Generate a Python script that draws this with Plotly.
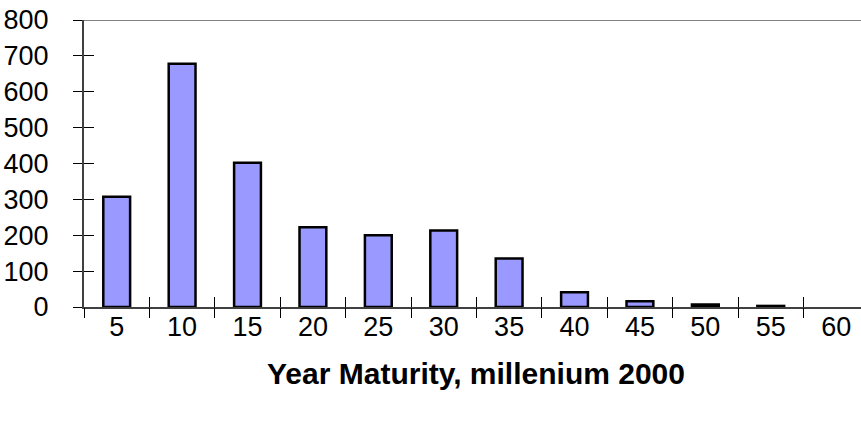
import plotly.graph_objects as go

categories = ["5", "10", "15", "20", "25", "30", "35", "40", "45", "50", "55", "60"]
values = [307, 678, 402, 222, 200, 213, 135, 41, 16, 7, 3, 0]
y_ticks = [0, 100, 200, 300, 400, 500, 600, 700, 800]
x_title = "Year Maturity, millenium 2000"

pos = list(range(len(categories)))
bounds = [i - 0.5 for i in range(len(categories) + 1)]
xr = [-0.5, 11.38]
yr = [0, 800]
FONT = "Liberation Sans, Arial, sans-serif"
line_widths = [2.5 if v > 0 else 0 for v in values]

fig = go.Figure()
fig.add_trace(go.Bar(
    x=pos, y=values, width=0.41,
    marker=dict(color="#9999FF", line=dict(color="#000000", width=line_widths)),
    hoverinfo="x+y", showlegend=False,
))

axis_common = dict(showgrid=False, zeroline=False, automargin=False)
fig.update_layout(
    width=861, height=421,
    margin=dict(l=84, r=0, t=20, b=114),
    paper_bgcolor="white", plot_bgcolor="white",
    font=dict(family=FONT, color="#000000"),
    xaxis=dict(range=xr, tickmode="array", tickvals=pos, ticktext=categories,
               ticks="", showline=True, linecolor="#404040", linewidth=2,
               tickfont=dict(size=27), ticklabelstandoff=-5, **axis_common),
    xaxis2=dict(range=xr, overlaying="x", tickmode="array", tickvals=bounds,
                ticks="outside", ticklen=10, tickwidth=1, tickcolor="#000000",
                showticklabels=False, showline=False, side="bottom", **axis_common),
    xaxis3=dict(range=xr, overlaying="x", tickmode="array", tickvals=bounds,
                ticks="inside", ticklen=10, tickwidth=1, tickcolor="#000000",
                showticklabels=False, showline=False, side="bottom", **axis_common),
    yaxis=dict(range=yr, tickmode="array", tickvals=y_ticks,
               ticks="outside", ticklen=9, tickwidth=1, tickcolor="#000000",
               showline=True, linecolor="#404040", linewidth=2,
               tickfont=dict(size=27), ticklabelstandoff=19, **axis_common),
    yaxis2=dict(range=yr, overlaying="y", tickmode="array", tickvals=y_ticks,
                ticks="inside", ticklen=10, tickwidth=1, tickcolor="#000000",
                showticklabels=False, showline=False, side="left", **axis_common),
    bargap=0.59,
)
fig.add_trace(go.Scatter(x=[None], y=[None], xaxis="x2", yaxis="y", showlegend=False, hoverinfo="skip"))
fig.add_trace(go.Scatter(x=[None], y=[None], xaxis="x3", yaxis="y2", showlegend=False, hoverinfo="skip"))

fig.add_shape(type="line", xref="paper", yref="y", x0=0, x1=1, y0=800, y1=800,
              line=dict(color="#808080", width=2))
fig.add_annotation(text="<b>" + x_title + "</b>", xref="paper", yref="paper",
                   x=0.5, y=0, yshift=-66, xshift=3, showarrow=False,
                   font=dict(size=30, family=FONT, color="#000000"),
                   xanchor="center", yanchor="middle")

fig.write_html("out.html", config={"displayModeBar": False},
               post_script="document.body.style.margin='0';document.body.style.padding='0';")
